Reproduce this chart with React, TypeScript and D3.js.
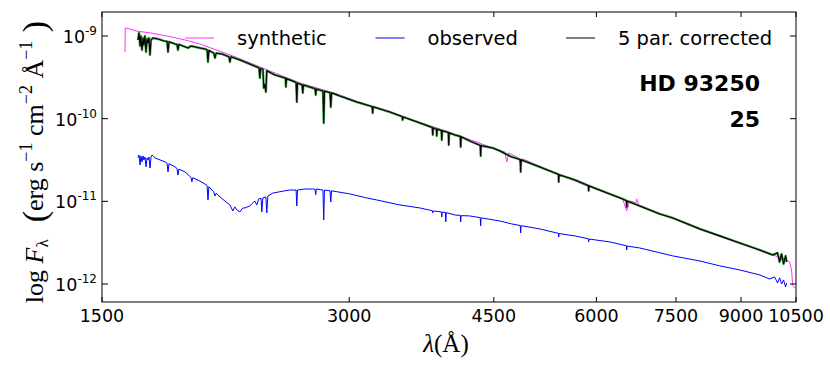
import * as React from 'react';
import * as d3 from 'd3';

// [wavelength (Å), flux (erg s^-1 cm^-2 Å^-1)]
const synthetic: [number, number][] = [
  [1600, 6.4e-10], [1601, 1.25e-9], [1622, 1.215e-9], [1650, 1.149e-9], [1716, 1.09e-9],
  [1800, 1.0e-9], [1893, 8.95e-10], [1974, 8.0e-10], [2165, 5.73e-10], [2402, 3.77e-10],
  [2613, 2.7e-10], [2898, 1.99e-10], [3180, 1.42e-10], [3488, 1.05e-10], [3835, 7.72e-11],
  [4092, 6.18e-11], [4487, 4.42e-11], [4640, 3.96e-11], [4667, 3.0e-11], [4692, 3.85e-11],
  [4825, 3.35e-11], [4852, 2.83e-11], [4880, 3.26e-11], [5415, 2.08e-11], [5937, 1.45e-11],
  [6458, 1.07e-11], [6532, 7.66e-12], [6587, 1.01e-11], [6700, 9.6e-12], [6717, 1.07e-11],
  [6754, 9.05e-12], [7165, 7.04e-12], [7431, 6.3e-12], [8175, 4.39e-12], [8964, 3.14e-12],
  [9833, 2.25e-12], [10228, 1.96e-12], [10313, 1.85e-12], [10371, 1.48e-12], [10400, 9.75e-13],
  [10459, 8.97e-13],
];

const corrected: [number, number][] = [
  [1659, 8.95e-10], [1664, 1.09e-9], [1669, 7.57e-10], [1673, 1.0e-9], [1678, 6.77e-10],
  [1683, 9.46e-10], [1687, 7.78e-10], [1692, 1.0e-9], [1697, 6.4e-10], [1702, 9.2e-10],
  [1706, 8.23e-10], [1711, 9.46e-10], [1716, 5.89e-10], [1721, 8.95e-10], [1731, 9.46e-10],
  [1755, 9.2e-10], [1785, 8.7e-10], [1800, 8.6e-10], [1805, 6.4e-10], [1810, 8.5e-10],
  [1841, 8.0e-10], [1851, 7.9e-10], [1856, 6.77e-10], [1861, 7.9e-10], [1909, 7.16e-10],
  [1925, 7.57e-10], [1974, 7.16e-10], [2002, 6.96e-10], [2014, 6.8e-10], [2019, 4.85e-10],
  [2024, 6.7e-10], [2052, 6.2e-10], [2059, 5.42e-10], [2066, 6.2e-10], [2099, 6.06e-10],
  [2141, 5.6e-10], [2147, 4.85e-10], [2153, 5.6e-10], [2208, 5.13e-10], [2270, 4.58e-10],
  [2315, 4.22e-10], [2330, 4.1e-10], [2335, 3.1e-10], [2340, 4.05e-10], [2355, 3.95e-10],
  [2361, 2.35e-10], [2368, 2.6e-10], [2375, 2.1e-10], [2381, 3.8e-10], [2435, 3.38e-10],
  [2505, 3.1e-10], [2509, 3.08e-10], [2512, 2.42e-10], [2516, 3.05e-10], [2576, 2.78e-10],
  [2585, 2.73e-10], [2590, 1.59e-10], [2595, 2.7e-10], [2629, 2.55e-10], [2634, 2.05e-10],
  [2639, 2.55e-10], [2726, 2.3e-10], [2731, 1.93e-10], [2736, 2.28e-10], [2787, 2.16e-10],
  [2793, 8.87e-11], [2799, 2.15e-10], [2843, 2.06e-10], [2849, 1.38e-10], [2855, 2.05e-10],
  [2921, 1.88e-10], [3064, 1.59e-10], [3199, 1.4e-10], [3204, 1.17e-10], [3209, 1.39e-10],
  [3359, 1.21e-10], [3480, 1.06e-10], [3485, 9.64e-11], [3490, 1.05e-10], [3657, 8.87e-11],
  [3787, 7.8e-11], [3792, 6.35e-11], [3797, 7.7e-11], [3830, 7.5e-11], [3835, 6.18e-11],
  [3840, 7.45e-11], [3884, 7.2e-11], [3889, 5.52e-11], [3894, 7.15e-11], [3961, 6.8e-11],
  [3966, 4.81e-11], [3971, 6.75e-11], [4033, 6.35e-11], [4096, 6.1e-11], [4101, 4.55e-11],
  [4106, 6.05e-11], [4206, 5.37e-11], [4332, 4.75e-11], [4337, 3.54e-11], [4342, 4.72e-11],
  [4487, 4.42e-11], [4576, 4.07e-11], [4732, 3.44e-11], [4846, 3.2e-11], [4852, 2.27e-11],
  [4858, 3.18e-11], [5117, 2.61e-11], [5393, 2.12e-11], [5398, 1.72e-11], [5403, 2.1e-11],
  [5646, 1.82e-11], [5865, 1.55e-11], [5871, 1.34e-11], [5877, 1.54e-11], [6228, 1.23e-11],
  [6458, 1.07e-11], [6526, 1.02e-11], [6532, 8.56e-12], [6538, 1.01e-11], [7165, 7.04e-12],
  [7431, 6.3e-12], [8016, 4.64e-12], [8476, 3.82e-12], [8964, 3.14e-12], [9481, 2.58e-12],
  [9833, 2.25e-12], [9971, 2.38e-12], [10028, 1.85e-12], [10084, 2.31e-12], [10141, 1.75e-12],
  [10198, 2.19e-12], [10228, 1.85e-12],
];

const observed: [number, number][] = [
  [1659, 3.35e-11], [1664, 3.64e-11], [1669, 2.75e-11], [1673, 3.54e-11], [1678, 3.0e-11],
  [1683, 3.54e-11], [1687, 3.17e-11], [1692, 3.44e-11], [1697, 2.61e-11], [1702, 3.35e-11],
  [1706, 3.17e-11], [1711, 3.44e-11], [1716, 2.53e-11], [1721, 3.44e-11], [1726, 3.64e-11],
  [1740, 3.35e-11], [1765, 3.17e-11], [1790, 3.0e-11], [1800, 2.9e-11], [1805, 2.27e-11],
  [1810, 2.85e-11], [1841, 2.61e-11], [1851, 2.5e-11], [1856, 2.08e-11], [1861, 2.45e-11],
  [1893, 2.27e-11], [1925, 1.95e-11], [1930, 1.72e-11], [1935, 1.93e-11], [1974, 1.76e-11],
  [2002, 1.62e-11], [2014, 1.55e-11], [2019, 1.04e-11], [2024, 1.5e-11], [2052, 1.3e-11],
  [2059, 1.16e-11], [2066, 1.25e-11], [2088, 1.13e-11], [2117, 1.01e-11], [2147, 9.05e-12],
  [2165, 7.66e-12], [2177, 8.56e-12], [2189, 7.87e-12], [2208, 7.45e-12], [2226, 8.32e-12],
  [2239, 8.32e-12], [2270, 8.8e-12], [2290, 9.57e-12], [2302, 1.01e-11], [2315, 9.05e-12],
  [2328, 1.07e-11], [2343, 1.09e-11], [2348, 7.45e-12], [2355, 1.1e-11], [2375, 1.13e-11],
  [2381, 7.24e-12], [2388, 1.16e-11], [2422, 1.26e-11], [2505, 1.34e-11], [2540, 1.37e-11],
  [2585, 1.37e-11], [2590, 8.8e-12], [2595, 1.37e-11], [2649, 1.41e-11], [2709, 1.41e-11],
  [2726, 1.4e-11], [2731, 1.2e-11], [2736, 1.41e-11], [2787, 1.37e-11], [2793, 5.96e-12],
  [2799, 1.37e-11], [2843, 1.34e-11], [2849, 9.84e-12], [2855, 1.34e-11], [3004, 1.23e-11],
  [3150, 1.1e-11], [3240, 1.04e-11], [3456, 9.05e-12], [3657, 8.32e-12], [3787, 7.7e-12],
  [3792, 7.24e-12], [3797, 7.66e-12], [3884, 7.45e-12], [3889, 6.48e-12], [3894, 7.4e-12],
  [3928, 7.35e-12], [3933, 5.64e-12], [3938, 7.3e-12], [4033, 6.85e-12], [4096, 6.75e-12],
  [4101, 5.64e-12], [4106, 6.72e-12], [4206, 6.66e-12], [4332, 6.35e-12], [4337, 5.04e-12],
  [4342, 6.32e-12], [4576, 5.79e-12], [4732, 5.33e-12], [4846, 5.1e-12], [4852, 4.15e-12],
  [4858, 5.08e-12], [5117, 4.64e-12], [5393, 4.1e-12], [5398, 3.71e-12], [5403, 4.08e-12],
  [5646, 3.82e-12], [5865, 3.52e-12], [5871, 3.23e-12], [5877, 3.5e-12], [6228, 3.23e-12],
  [6526, 2.9e-12], [6532, 2.58e-12], [6538, 2.88e-12], [6774, 2.73e-12], [7431, 2.19e-12],
  [8016, 1.9e-12], [8476, 1.66e-12], [8964, 1.48e-12], [9481, 1.29e-12], [9749, 1.15e-12],
  [9888, 1.22e-12], [9971, 1.03e-12], [10028, 1.19e-12], [10084, 1.0e-12], [10141, 1.12e-12],
  [10198, 9.22e-13], [10228, 1.03e-12],
];

const xTicks = [1500, 3000, 4500, 6000, 7500, 9000, 10500];
const yTicks = [1e-9, 1e-10, 1e-11, 1e-12];
const yTickExp = ['-9', '-10', '-11', '-12'];
const legendNames = ['synthetic', 'observed', '5 par. corrected'];
const legendColors = ['#ff33ff', '#0000ff', '#000000'];
const starName = 'HD 93250';
const starLabel = '25';

const W = 830;
const H = 368;
const left = 102;
const right = 796;
const top = 12;
const bottom = 302;

const sans = "'DejaVu Sans', sans-serif";
const serif = "'Liberation Serif', 'DejaVu Serif', serif";

const App = () => {
  const x = d3.scaleLog().domain([1500, 10500]).range([left, right]);
  const y = d3.scaleLog().domain([6.06e-13, 1.95e-9]).range([bottom, top]);
  const line = d3
    .line<[number, number]>()
    .x((d) => x(d[0]))
    .y((d) => y(d[1]));

  const tk = 5;

  return (
    <svg
      width={W}
      height={H}
      style={{ position: 'absolute', left: 0, top: 0, background: '#fff' }}>
      <defs>
        <clipPath id='plot'>
          <rect x={left} y={top} width={right - left} height={bottom - top} />
        </clipPath>
      </defs>

      <g clipPath='url(#plot)' fill='none' strokeLinejoin='round'>
        <path d={line(synthetic)!} stroke={legendColors[0]} strokeWidth={1} />
        <path d={line(observed)!} stroke={legendColors[1]} strokeWidth={1} />
        <path d={line(corrected)!} stroke='#1a8a1a' strokeWidth={2.4} opacity={0.75} />
        <path d={line(corrected)!} stroke={legendColors[2]} strokeWidth={1.1} />
      </g>

      {/* frame */}
      <rect
        x={left}
        y={top}
        width={right - left}
        height={bottom - top}
        fill='none'
        stroke='#000'
        strokeWidth={1}
      />

      {/* x ticks */}
      {xTicks.map((t, i) => (
        <g key={'x' + i}>
          <line x1={x(t)} x2={x(t)} y1={bottom} y2={bottom - tk} stroke='#000' />
          <line x1={x(t)} x2={x(t)} y1={top} y2={top + tk} stroke='#000' />
          <text
            x={x(t)}
            y={bottom + 20}
            textAnchor='middle'
            fontFamily={sans}
            fontSize={17.5}>
            {t}
          </text>
        </g>
      ))}

      {/* y ticks */}
      {yTicks.map((t, i) => (
        <g key={'y' + i}>
          <line x1={left} x2={left + tk + 1} y1={y(t)} y2={y(t)} stroke='#000' />
          <line x1={right} x2={right - tk - 1} y1={y(t)} y2={y(t)} stroke='#000' />
          <text
            x={97}
            y={y(t) + 7}
            textAnchor='end'
            fontFamily={sans}
            fontSize={17.5}>
            <tspan>10</tspan>
            <tspan fontSize={12} dy={-8}>
              {yTickExp[i]}
            </tspan>
          </text>
        </g>
      ))}

      {/* axis labels */}
      <text x={446} y={352} textAnchor='middle' fontFamily={serif} fontSize={25}>
        <tspan fontStyle='italic'>λ</tspan>
        <tspan>(Å)</tspan>
      </text>
      <text
        transform='translate(43,162) rotate(-90)'
        textAnchor='middle'
        fontFamily={serif}
        fontSize={26}>
        <tspan>log </tspan>
        <tspan fontStyle='italic'>F</tspan>
        <tspan fontSize={17} dy={5}>
          λ
        </tspan>
        <tspan dy={-2} fontSize={34}>
          {'\u00a0\u00a0('}
        </tspan>
        <tspan dy={-3}>{'erg\u00a0s'}</tspan>
        <tspan fontSize={18} dy={-11}>
          −1
        </tspan>
        <tspan dy={11}>{'\u00a0cm'}</tspan>
        <tspan fontSize={18} dy={-11}>
          −2
        </tspan>
        <tspan dy={11}>{'\u00a0Å'}</tspan>
        <tspan fontSize={18} dy={-11}>
          −1
        </tspan>
        <tspan dy={14} fontSize={34}>
          {'\u00a0)'}
        </tspan>
      </text>

      {/* legend */}
      {legendNames.map((n, i) => {
        const lx = 185 + i * 190.5;
        return (
          <g key={'l' + i}>
            <line
              x1={lx}
              x2={lx + 29}
              y1={38}
              y2={38}
              stroke={legendColors[i]}
              strokeWidth={1}
            />
            <text x={lx + 52} y={45} fontFamily={sans} fontSize={19.5}>
              {n}
            </text>
          </g>
        );
      })}

      {/* star annotation */}
      <text
        x={760}
        y={91}
        textAnchor='end'
        fontFamily={sans}
        fontWeight='bold'
        fontSize={22}>
        {starName}
      </text>
      <text
        x={760}
        y={127}
        textAnchor='end'
        fontFamily={sans}
        fontWeight='bold'
        fontSize={22}>
        {starLabel}
      </text>
    </svg>
  );
};

export default App;
